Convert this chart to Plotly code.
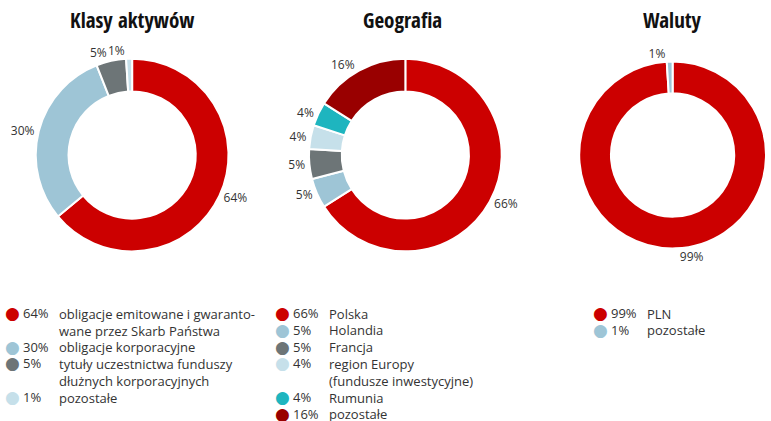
import plotly.graph_objects as go

W, H = 771, 421

titles = ["Klasy aktywów", "Geografia", "Waluty"]

klasy_labels = ["obligacje emitowane i gwaranto-<br>wane przez Skarb Państwa",
                "obligacje korporacyjne",
                "tytuły uczestnictwa funduszy<br>dłużnych korporacyjnych",
                "pozostałe"]
klasy_values = [64, 30, 5, 1]
klasy_colors = ["#cc0000", "#9ec5d6", "#6d7577", "#c6e0ea"]

geo_labels = ["Polska", "Holandia", "Francja",
              "region Europy<br>(fundusze inwestycyjne)", "Rumunia", "pozostałe"]
geo_values = [66, 5, 5, 4, 4, 16]
geo_colors = ["#cc0000", "#9ec5d6", "#6d7577", "#c6e0ea", "#1eb5bf", "#990000"]

wal_labels = ["PLN", "pozostałe"]
wal_values = [99, 1]
wal_colors = ["#cc0000", "#9ec5d6"]

charts = [
    (klasy_labels, klasy_values, klasy_colors),
    (geo_labels, geo_values, geo_colors),
    (wal_labels, wal_values, wal_colors),
]

# layout geometry (pixels)
centers_x = [133, 408, 680]
title_x = [133, 405, 677]
center_y = 155
R = 97
legend_x = [11, 283, 603]   # circle x position
legend_top = 313
line_h = 16.8

TXT = "#333333"
FONT = "Open Sans"
TITLE_FONT = "Open Sans Condensed, Liberation Sans Narrow, DejaVu Sans Condensed, Open Sans"

fig = go.Figure()
annotations = []


def add_pie(i, labels, values, colors, text_mask, transparent=False):
    cx = centers_x[i]
    x0 = max(cx - R, 0) / W
    x1 = min(cx + R, W) / W
    y0 = 1 - (center_y + R) / H
    y1 = 1 - (center_y - R) / H
    texts = [f"{v}%" if m else "" for v, m in zip(values, text_mask)]
    fig.add_trace(go.Pie(
        labels=[l.replace("<br>", " ") for l in labels],
        values=values,
        hole=0.66,
        sort=False,
        direction="clockwise",
        rotation=0,
        marker=dict(colors=["rgba(0,0,0,0)"] * len(values) if transparent else colors,
                    line=dict(color="rgba(0,0,0,0)" if transparent else "white",
                              width=0 if transparent else 2)),
        text=texts,
        textinfo="text",
        textposition="outside",
        textfont=dict(family=FONT, size=12, color=TXT),
        domain=dict(x=[x0, x1], y=[y0, y1]),
        showlegend=False,
        hoverinfo="skip" if transparent else "label+value",
    ))


for i, (labels, values, colors) in enumerate(charts):
    if i == 0:
        # small last slice label drawn by an overlay trace so it is not pushed away
        add_pie(i, labels, values, colors, [v > 1 for v in values])
        add_pie(i, labels, values, colors, [v == 1 for v in values], transparent=True)
    else:
        add_pie(i, labels, values, colors, [True] * len(values))
    annotations.append(dict(
        x=title_x[i] / W, y=1 - 20 / H, xref="paper", yref="paper",
        text="<b>" + titles[i] + "</b>", showarrow=False,
        font=dict(family=TITLE_FONT, size=21, color="#111111"),
        xanchor="center", yanchor="middle",
    ))
    # custom legend
    row = 0
    lx = legend_x[i]
    for lab, val, col in zip(labels, values, colors):
        yy = legend_top + row * line_h
        annotations.append(dict(
            x=(lx - 8) / W, y=1 - yy / H, xref="paper", yref="paper",
            text="●", showarrow=False, xanchor="left", yanchor="middle",
            font=dict(family="DejaVu Sans", size=17, color=col),
        ))
        annotations.append(dict(
            x=(lx + 10) / W, y=1 - yy / H, xref="paper", yref="paper",
            text=f"{val}%", showarrow=False, xanchor="left", yanchor="middle",
            font=dict(family=FONT, size=13, color=TXT),
        ))
        nlines = lab.count("<br>") + 1
        annotations.append(dict(
            x=(lx + 46) / W, y=1 - (yy - line_h / 2 - 2) / H, xref="paper", yref="paper",
            text=lab, showarrow=False, xanchor="left", yanchor="top", align="left",
            font=dict(family=FONT, size=13, color=TXT),
        ))
        row += nlines

fig.update_layout(
    width=W, height=H,
    margin=dict(l=0, r=0, t=0, b=0),
    paper_bgcolor="white", plot_bgcolor="white",
    annotations=annotations,
)

post = """
document.body.style.margin = '0';
document.querySelectorAll('g.annotation-text-g text, text.annotation-text').forEach(function(t){
  var s = t.textContent;
  if (s === 'Klasy aktywów' || s === 'Geografia' || s === 'Waluty') {
    t.style.fontStretch = '75%';
  }
});
"""
fig.write_html("out.html", post_script=post, config={"displayModeBar": False})
